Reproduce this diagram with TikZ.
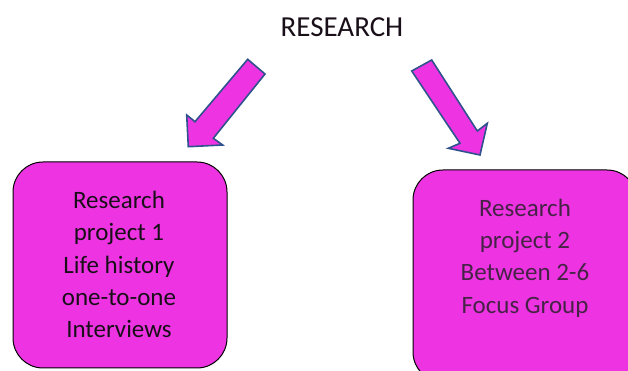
\documentclass[tikz,border=0pt]{standalone}
\usepackage{fontspec}
\setmainfont{Carlito}
\definecolor{boxfill}{RGB}{238,52,226}
\definecolor{arrowline}{RGB}{47,82,143}
\definecolor{txtdark}{RGB}{25,15,25}
\definecolor{txtmuted}{RGB}{70,35,70}
\begin{document}
\begin{tikzpicture}[x=1pt,y=1pt,
  boxstyle/.style={draw=black, line width=1pt, fill=boxfill, rounded corners=30pt},
  boxtext/.style={align=center, font=\fontsize{25}{32.3}\selectfont, inner sep=0pt},
  blockarrow/.style={draw=arrowline, line width=1.6pt, fill=boxfill, line join=miter}]
\useasboundingbox (0,0) rectangle (628,371);
\clip (0,0) rectangle (628,371);
% title
\node[font=\fontsize{29}{34}\selectfont, anchor=base, inner sep=0pt, text=txtdark] (title) at (342,334.3) {RESEARCH};
% boxes
\node[boxstyle, minimum width=214pt, minimum height=206pt, inner sep=0pt] (box1) at (120,106) {};
\node[boxstyle, minimum width=224pt, minimum height=212pt, inner sep=0pt] (box2) at (525,95) {};
% box texts (base anchor = baseline of the last line)
\node[boxtext, text=txtdark, anchor=base] (t1) at (119,33.3)
  {Research\\project 1\\Life history\\one-to-one\\Interviews};
\node[boxtext, text=txtmuted, anchor=base] (t2) at (525,57.7)
  {Research\\project 2\\Between 2-6\\Focus Group};
% block arrows
\coordinate (a1t1) at (247.7,311.7);
\coordinate (a1t2) at (265,297);
\coordinate (a1j1) at (213.3,232.7);
\coordinate (a1b1) at (222.7,226);
\coordinate (a1tip) at (188.3,224.3);
\coordinate (a1b2) at (186.7,256);
\coordinate (a1j2) at (195,249.3);
\draw[blockarrow] (a1t1) -- (a1t2) -- (a1j1) -- (a1b1) -- (a1tip) -- (a1b2) -- (a1j2) -- cycle;
\coordinate (a2t1) at (411.7,300);
\coordinate (a2t2) at (431.7,311);
\coordinate (a2j1) at (477.3,240);
\coordinate (a2b1) at (487.3,247.7);
\coordinate (a2tip) at (480,216);
\coordinate (a2b2) at (448.3,222.7);
\coordinate (a2j2) at (460,227.7);
\draw[blockarrow] (a2t1) -- (a2t2) -- (a2j1) -- (a2b1) -- (a2tip) -- (a2b2) -- (a2j2) -- cycle;
\end{tikzpicture}
\end{document}
